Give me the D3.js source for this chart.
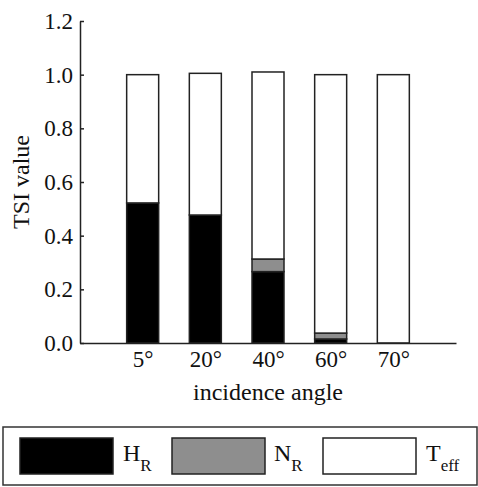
<!DOCTYPE html>
<html>
<head>
<meta charset="utf-8">
<script src="https://d3js.org/d3.v7.min.js"></script>
<style>
  body { margin: 0; background: #fff; }
  .axis path, .axis line { stroke: #222; stroke-width: 1.5px; }
</style>
</head>
<body>
<div class="chart"></div>
<script>
// chart data
var angles = ["5°", "20°", "40°", "60°", "70°"];
var hR = [0.522, 0.477, 0.266, 0.015, 0];
var nR = [0, 0, 0.047, 0.022, 0];
var tEff = [0.478, 0.528, 0.697, 0.963, 1.0];
var yTicks = [0, 0.2, 0.4, 0.6, 0.8, 1.0, 1.2];
var seriesKeys = ["hR", "nR", "tEff"];
var seriesColors = ["#000000", "#8e8e8e", "#ffffff"];

var fontFamily = "Liberation Serif";

var svgWidth = 478;
var svgHeight = 487;

var margin = { top: 21, right: 22, bottom: 144, left: 80 };
var width = svgWidth - margin.left - margin.right;
var height = svgHeight - margin.top - margin.bottom;

var svg = d3.select(".chart")
  .append("svg")
  .attr("width", svgWidth)
  .attr("height", svgHeight)
  .style("display", "block");

var chartGroup = svg.append("g")
  .attr("transform", `translate(${margin.left}, ${margin.top})`);

// table for the stack layout
var table = angles.map(function(a, i) {
  return { angle: a, hR: hR[i], nR: nR[i], tEff: tEff[i] };
});

var stacked = d3.stack().keys(seriesKeys)(table);

// scales
var xScale = d3.scalePoint()
  .domain(angles)
  .range([0, width])
  .padding(1);

var yScale = d3.scaleLinear()
  .domain([0, 1.2])
  .range([height, 0]);

var barWidth = 32;

// bars
chartGroup.selectAll("g.series")
  .data(stacked)
  .enter()
  .append("g")
  .attr("class", "series")
  .attr("fill", (d, i) => seriesColors[i])
  .selectAll("rect")
  .data(d => d.filter(s => s[1] - s[0] > 0))
  .enter()
  .append("rect")
  .attr("x", d => xScale(d.data.angle) - barWidth / 2)
  .attr("y", d => yScale(d[1]))
  .attr("width", barWidth)
  .attr("height", d => yScale(d[0]) - yScale(d[1]))
  .attr("stroke", "#222")
  .attr("stroke-width", 1.5);

// axes
var leftAxis = d3.axisLeft(yScale)
  .tickValues(yTicks)
  .tickFormat(d3.format(".1f"))
  .tickSizeInner(-4)
  .tickSizeOuter(0)
  .tickPadding(7);

var bottomAxis = d3.axisBottom(xScale)
  .tickSize(0)
  .tickPadding(8);

chartGroup.append("g")
  .attr("class", "axis")
  .call(leftAxis);

chartGroup.append("g")
  .attr("class", "axis")
  .attr("transform", `translate(0, ${height})`)
  .call(bottomAxis);

// tick labels: serif, a bit bigger
chartGroup.selectAll(".axis text")
  .attr("font-family", fontFamily)
  .attr("font-size", 23)
  .attr("fill", "#111");

// axis labels
chartGroup.append("text")
  .attr("transform", "rotate(-90)")
  .attr("x", 0 - height / 2)
  .attr("y", 0 - margin.left + 29)
  .attr("text-anchor", "middle")
  .attr("font-family", fontFamily)
  .attr("font-size", 24)
  .attr("fill", "#111")
  .text("TSI value");

chartGroup.append("text")
  .attr("x", width / 2)
  .attr("y", height + 57)
  .attr("text-anchor", "middle")
  .attr("font-family", fontFamily)
  .attr("font-size", 24)
  .attr("fill", "#111")
  .text("incidence angle");

// legend
var legend = svg.append("g");

legend.append("rect")
  .attr("x", 3)
  .attr("y", 427)
  .attr("width", 474)
  .attr("height", 58)
  .attr("fill", "none")
  .attr("stroke", "#333")
  .attr("stroke-width", 1.5);

var legendItems = [
  { main: "H", sub: "R", sx: 20, tx: 123 },
  { main: "N", sub: "R", sx: 172, tx: 274 },
  { main: "T", sub: "eff", sx: 323, tx: 426 }
];

legendItems.forEach(function(item, i) {
  legend.append("rect")
    .attr("x", item.sx)
    .attr("y", 438)
    .attr("width", 93)
    .attr("height", 36)
    .attr("fill", seriesColors[i])
    .attr("stroke", "#222")
    .attr("stroke-width", 1.5);

  var label = legend.append("text")
    .attr("x", item.tx)
    .attr("y", 461)
    .attr("font-family", fontFamily)
    .attr("font-size", 24)
    .attr("fill", "#111");
  label.append("tspan").text(item.main);
  label.append("tspan")
    .attr("dy", 10)
    .attr("font-size", 17)
    .text(item.sub);
});
</script>
</body>
</html>
